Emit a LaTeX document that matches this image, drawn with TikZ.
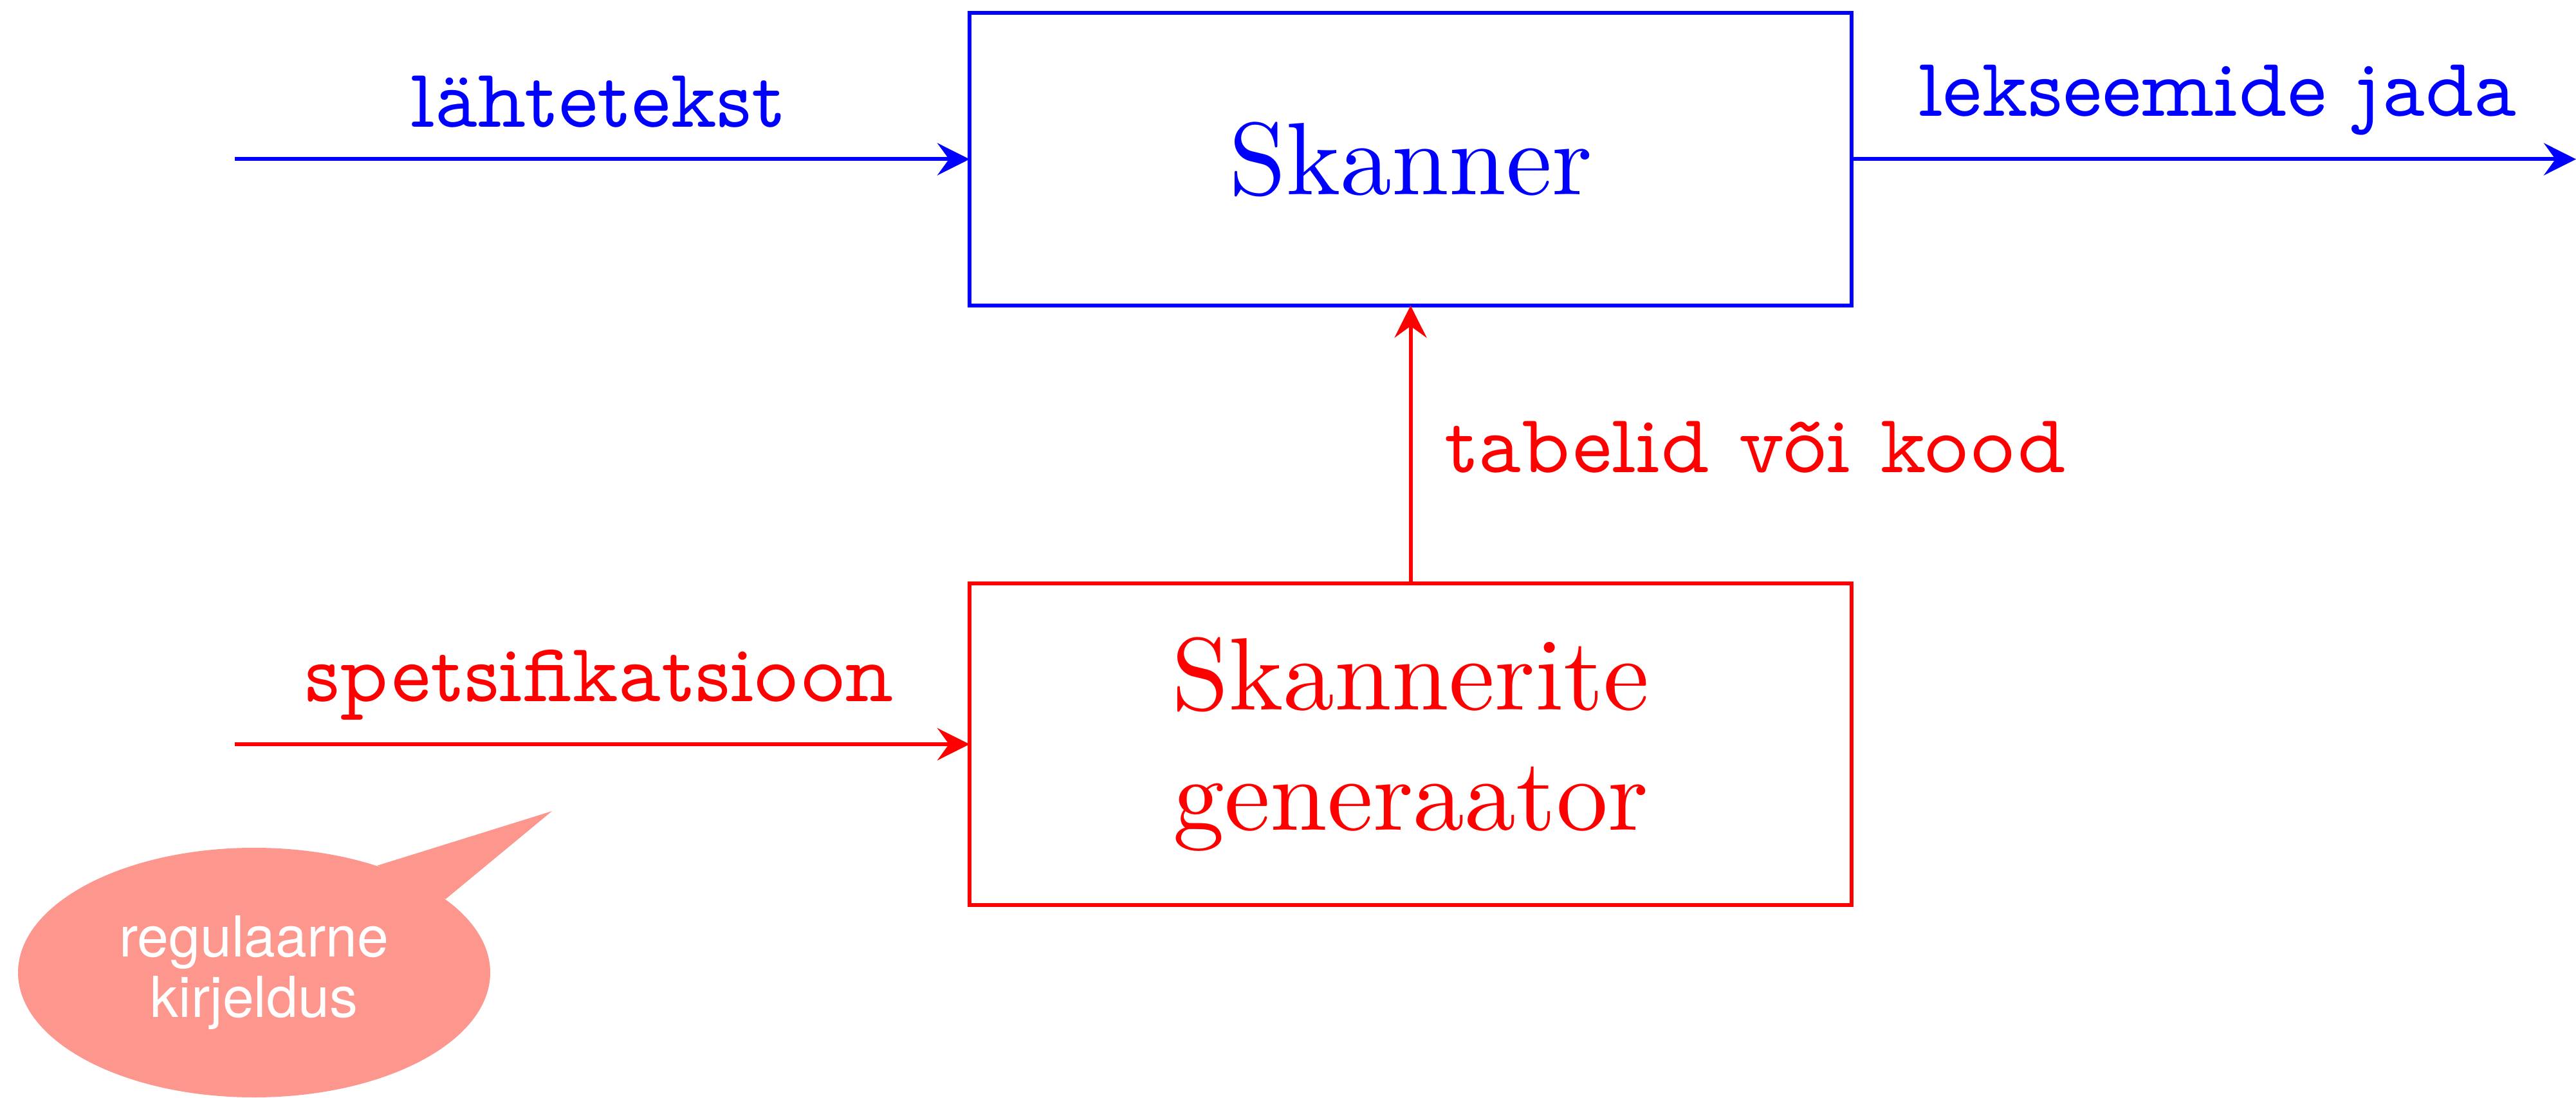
\documentclass[tikz,border=0pt]{standalone}
\usepackage{fontspec}
\usetikzlibrary{arrows.meta,shapes.geometric}
\newfontfamily\rmten{lmroman10-regular.otf}
\newfontfamily\ttten{lmmonoprop10-regular.otf}
\newfontfamily\bubfont{TeX Gyre Heros}
\definecolor{myblue}{RGB}{0,0,255}
\definecolor{myred}{RGB}{255,0,0}
\definecolor{bubfill}{RGB}{253,151,142}
\begin{document}
\begin{tikzpicture}[
  box/.style={draw, line width=0.06cm, minimum width=13.71cm, inner sep=0pt, outer sep=0pt,
              font=\rmten\fontsize{45.5}{53}\selectfont, align=center},
  conn/.style={line width=0.06cm, -{Stealth[length=0.5cm,width=0.5cm,inset=0.18cm]}},
  lbl/.style={font=\ttten\fontsize{37}{42}\selectfont, inner sep=0pt},
  bubble/.style={ellipse, fill=bubfill, minimum width=7.34cm, minimum height=3.88cm, inner sep=0pt,
                 text=white, font=\bubfont\fontsize{25}{26.6}\selectfont, align=center},
]
\useasboundingbox (0,0) rectangle (40.04,-17.07);
\node[box, myblue, minimum height=4.55cm] (sk) at (21.925,-2.475) {Skanner};
\node[box, myred, minimum height=5.0cm] (gen) at (21.925,-11.57) {Skannerite\\generaator};

\coordinate (in1) at (3.65,-2.475);
\coordinate (out1) at (40.04,-2.475);
\coordinate (in2) at (3.65,-11.57);
\draw[conn, myblue] (in1) -- (sk.west);
\draw[conn, myblue] (sk.east) -- (out1);
\draw[conn, myred] (in2) -- (gen.west);
\draw[conn, myred] (gen.north) -- (sk.south);

\node[lbl, myblue, anchor=base] (l1) at (9.30,-1.98) {lähtetekst};
\node[lbl, myblue, anchor=base] (l2) at (34.47,-1.81) {lekseemide jada};
\node[lbl, myred, anchor=base west] (l3) at (22.45,-7.35) {tabelid või kood};
\node[lbl, myred, anchor=base] (l4) at (9.32,-10.90) {spetsifikatsioon};

\node[bubble] (bub) at (3.95,-15.12) {regulaarne\\kirjeldus};
\coordinate (tip) at (8.58,-12.61);
\fill[bubfill] (bub.41) -- (tip) -- (bub.21) -- cycle;
\end{tikzpicture}
\end{document}
